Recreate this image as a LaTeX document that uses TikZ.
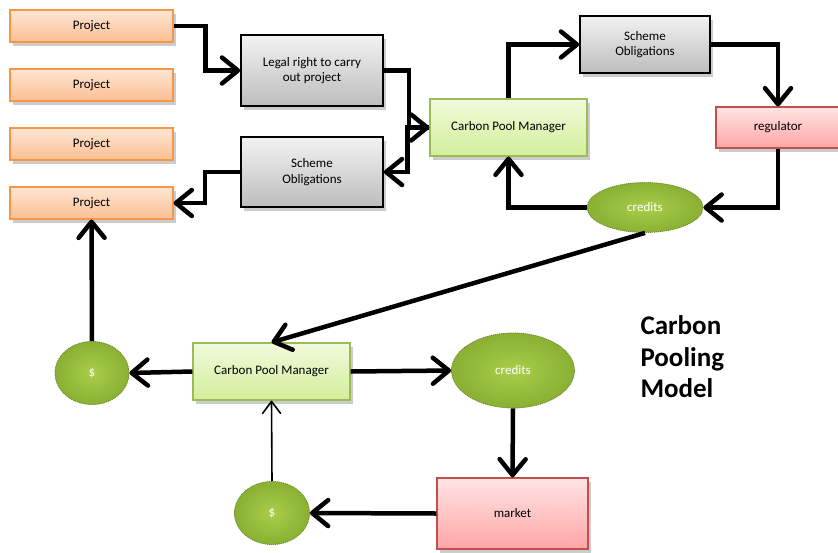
\documentclass[tikz,border=0pt]{standalone}
\usepackage{fontspec}
\setmainfont{Carlito}
\usetikzlibrary{arrows.meta,shapes.geometric,shadows}

\definecolor{orEdge}{HTML}{F79646}
\definecolor{orTop}{HTML}{FEE6D4}
\definecolor{orBot}{HTML}{FBBE92}
\definecolor{grTop}{HTML}{F2F2F2}
\definecolor{grBot}{HTML}{BDBDBD}
\definecolor{lgEdge}{HTML}{9BBB59}
\definecolor{lgTop}{HTML}{F1FADC}
\definecolor{lgBot}{HTML}{D3EE9A}
\definecolor{rdEdge}{HTML}{C0504D}
\definecolor{rdTop}{HTML}{FFE4E4}
\definecolor{rdBot}{HTML}{FFA5A5}
\definecolor{ovIn}{HTML}{A9CE4A}
\definecolor{ovOut}{HTML}{8AB034}
\definecolor{ovEdge}{HTML}{6A8A25}

\tikzset{
  blk/.style={rectangle, align=center, inner sep=2pt,
    font=\fontsize{13}{15.5}\selectfont, line width=1.2pt,
    drop shadow={shadow xshift=3pt, shadow yshift=-4pt, opacity=0.2, fill=black}},
  proj/.style={blk, draw=orEdge, top color=orTop, bottom color=orBot,
    minimum width=163pt, minimum height=32pt},
  grey/.style={blk, draw=black, line width=1.6pt, top color=grTop, bottom color=grBot},
  pool/.style={blk, draw=lgEdge, top color=lgTop, bottom color=lgBot,
    minimum width=157pt, minimum height=57pt},
  redbox/.style={blk, draw=rdEdge, top color=rdTop, bottom color=rdBot},
  oval/.style={ellipse, inner sep=0pt, draw=ovEdge, line width=0.8pt,
    dash pattern=on 1.2pt off 0.8pt, inner color=ovIn, outer color=ovOut,
    text=white, font=\fontsize{13}{15.5}\selectfont},
  flow/.style={line width=4.5pt, -{Straight Barb[length=16pt,width=26pt,round]}},
  thinflow/.style={line width=1.6pt, -{Straight Barb[length=12pt,width=18pt,round]}}
}

\begin{document}
\begin{tikzpicture}[x=1pt, y=-1pt]
  \fill[white] (0,0) rectangle (838,552);
  \useasboundingbox (0,0) rectangle (838,552);

  % projects column
  \node[proj] (p1) at (91.5,26) {Project};
  \node[proj] (p2) at (91.5,85) {Project};
  \node[proj] (p3) at (91.5,144) {Project};
  \node[proj] (p4) at (91.5,203) {Project};

  % upper loop
  \node[grey, minimum width=142pt, minimum height=71pt] (legal) at (312,70.5)
    {Legal right to carry\\out project};
  \node[grey, minimum width=142pt, minimum height=70pt] (schL) at (312,172)
    {Scheme\\Obligations};
  \node[pool] (cpm1) at (508.5,127.5) {Carbon Pool Manager};
  \node[grey, minimum width=130pt, minimum height=57pt] (schR) at (645,44.5)
    {Scheme\\Obligations};
  \node[redbox, minimum width=124pt, minimum height=41pt] (reg) at (778,127.5) {regulator};
  \node[oval, minimum width=116pt, minimum height=50pt] (cr1) at (645,207.5) {credits};

  % lower part
  \node[pool] (cpm2) at (271.5,371.5) {Carbon Pool Manager};
  \node[oval, minimum width=74pt, minimum height=63pt] (d1) at (92,373) {\$};
  \node[oval, minimum width=123pt, minimum height=75pt] (cr2) at (513,370.5) {credits};
  \node[redbox, minimum width=151pt, minimum height=71pt] (mkt) at (512.5,513.5) {market};
  \node[oval, minimum width=75pt, minimum height=63pt] (d2) at (272,513) {\$};

  \node[anchor=west, align=left, font=\fontsize{27}{31.5}\selectfont\bfseries]
    (title) at (637,357) {Carbon\\Pooling\\Model};

  % connectors
  \draw[flow] (p1.east) -- ++(32,0) |- (legal.west);
  \draw[flow] (legal.east) -- ++(25,0) |- (cpm1.west);
  \draw[flow] (cpm1.west) -- ++(-22,0) |- (schL.east);
  \draw[flow] (schL.west) -- ++(-35,0) |- (p4.east);
  \draw[flow] (cpm1.north) |- (schR.west);
  \draw[flow] (schR.east) -| (reg.north);
  \draw[flow] (reg.south) |- (cr1.east);
  \draw[flow] (cr1.west) -| (cpm1.south);
  \draw[flow] (cr1.south) -- (cpm2.north);
  \draw[flow] (cpm2.west) -- (d1.east);
  \draw[flow] (cpm2.east) -- (cr2.west);
  \draw[flow] (cr2.south) -- (mkt.north);
  \draw[flow] (mkt.west) -- (d2.east);
  \draw[flow] (d1.north) -- (p4.south);
  \draw[thinflow] (d2.north) -- (cpm2.south);
\end{tikzpicture}
\end{document}
